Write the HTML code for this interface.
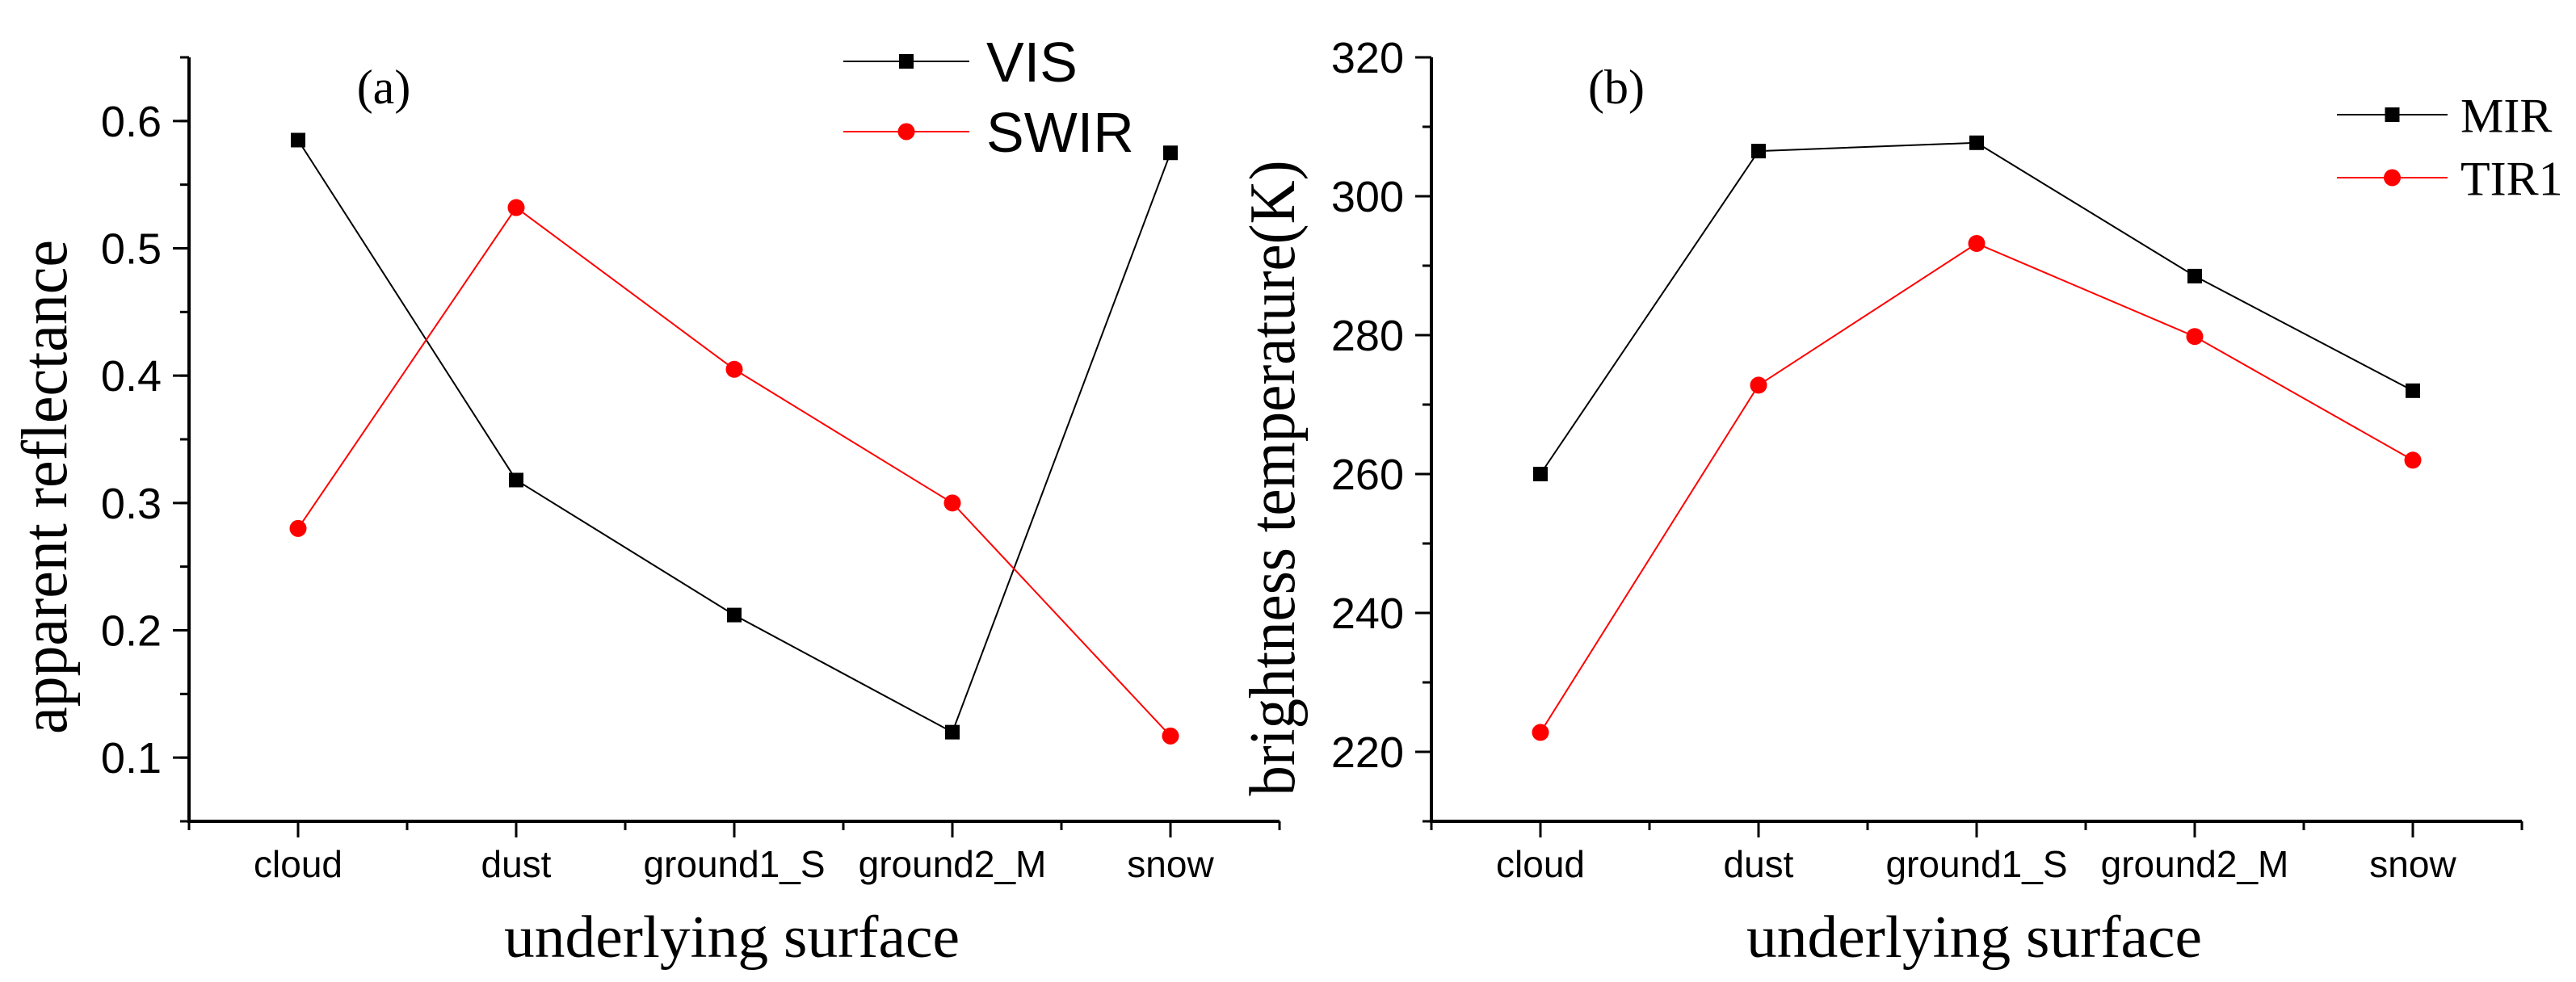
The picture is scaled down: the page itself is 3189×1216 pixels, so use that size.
<!DOCTYPE html>
<html><head><meta charset="utf-8"><style>
html,body{margin:0;padding:0;background:#fff;}
svg{display:block;}
</style></head><body>
<svg id="fig" width="3189" height="1216" viewBox="0 0 3189 1216" xmlns="http://www.w3.org/2000/svg">
<g id="pa"></g>
<g id="pb"></g>
</svg>
<script>
const categories = ["cloud","dust","ground1_S","ground2_M","snow"];
const visValues = [0.585, 0.318, 0.212, 0.120, 0.575];
const swirValues = [0.280, 0.532, 0.405, 0.300, 0.117];
const mirValues = [260.0, 306.5, 307.7, 288.5, 272.0];
const tir1Values = [222.8, 272.8, 293.2, 279.8, 262.0];
const aTicks = [0.1, 0.2, 0.3, 0.4, 0.5, 0.6];
const aTickLabels = ["0.1","0.2","0.3","0.4","0.5","0.6"];
const bTicks = [220, 240, 260, 280, 300, 320];
const bTickLabels = ["220","240","260","280","300","320"];

const NS = "http://www.w3.org/2000/svg";
function mk(parent, tag, attrs, text){
  const e = document.createElementNS(NS, tag);
  for (const k in attrs) e.setAttribute(k, attrs[k]);
  if (text !== undefined) e.textContent = text;
  parent.appendChild(e);
  return e;
}

function drawPanel(g, cfg){
  const x0 = cfg.x0, x1 = cfg.x0 + 1350, yTop = 71, yBot = 1017;
  const xs = i => x0 + 135 + 270 * i;
  const ys = v => yBot - (v - cfg.min) / (cfg.max - cfg.min) * (yBot - yTop);
  const ax = mk(g, "path", {d:`M${x0},${yTop} V${yBot} H${x1}`, fill:"none", stroke:"#000", "stroke-width":4});
  
  
  cfg.ticks.forEach((t, i) => {
    const y = ys(t);
    const tk = mk(g, "line", {x1:x0-20, x2:x0, y1:y, y2:y, stroke:"#000", "stroke-width":3});
    
    
    const lb = mk(g, "text", {x:x0-34, y:y+19, "text-anchor":"end", "font-family":"Liberation Sans, sans-serif", "font-size":54}, cfg.tickLabels[i]);
    
    
  });
  const step = cfg.ticks[1] - cfg.ticks[0];
  for (let v = cfg.min; v <= cfg.max + 1e-9; v += step/2) {
    const y = ys(v);
    const mt = mk(g, "line", {x1:x0-11, x2:x0, y1:y, y2:y, stroke:"#000", "stroke-width":3});
    
    
  }
  for (let k = 0; k <= 10; k++) {
    const x = x0 + 135 * k;
    const major = k % 2 === 1;
    const xt = mk(g, "line", {x1:x, x2:x, y1:yBot, y2:yBot + (major ? 20 : 11), stroke:"#000", "stroke-width":3});
    
    
  }
  categories.forEach((c, i) => {
    const xl = mk(g, "text", {x:xs(i), y:1086, "text-anchor":"middle", "font-family":"Liberation Sans, sans-serif", "font-size":46}, c);
    
    
  });
  const xt = mk(g, "text", {x:x0 + 672, y:1185, "text-anchor":"middle", "font-family":"Liberation Serif, serif", "font-size":74, textLength:564, lengthAdjust:"spacingAndGlyphs"}, "underlying surface");
  
  
  const yt = mk(g, "text", {x:0, y:0, "text-anchor":"middle", "font-family":"Liberation Serif, serif", "font-size":80, textLength:cfg.ytLen, lengthAdjust:"spacingAndGlyphs", transform:`translate(${cfg.ytX},${cfg.ytY}) rotate(-90)`}, cfg.ytitle);
  
  
  const pl = mk(g, "text", {x:cfg.plX, y:128, "text-anchor":"middle", "font-family":"Liberation Serif, serif", "font-size":60}, cfg.panelLabel);
  
  
  cfg.series.forEach(s => {
    const pts = s.values.map((v, i) => `${xs(i)},${ys(v)}`).join(" ");
    const ln = mk(g, "polyline", {points:pts, fill:"none", stroke:s.color, "stroke-width":2});
    
    
    s.values.forEach((v, i) => {
      let m;
      if (s.shape === "sq") m = mk(g, "rect", {x:xs(i)-9, y:ys(v)-9, width:18, height:18, fill:s.color});
      else m = mk(g, "circle", {cx:xs(i), cy:ys(v), r:10.5, fill:s.color});
      
      
    });
    const L = s.leg;
    const ll = mk(g, "line", {x1:L.x1, x2:L.x2, y1:L.y, y2:L.y, stroke:s.color, "stroke-width":2});
    
    
    const mx = (L.x1 + L.x2)/2;
    let lm;
    if (s.shape === "sq") lm = mk(g, "rect", {x:mx-9, y:L.y-9, width:18, height:18, fill:s.color});
    else lm = mk(g, "circle", {cx:mx, cy:L.y, r:10.5, fill:s.color});
    
    
    const lt = mk(g, "text", {x:L.tx, y:L.y + L.fs*0.36, "font-family":L.font, "font-size":L.fs}, s.label);
    
    
  });
}

drawPanel(document.getElementById("pa"), {
  id:"panel-a", x0:234, min:0.05, max:0.65, ticks:aTicks, tickLabels:aTickLabels,
  ytitle:"apparent reflectance", ytX:82, ytY:603, ytLen:612, plX:475, panelLabel:"(a)",
  series:[
    {name:"vis", label:"VIS", values:visValues, color:"#000", shape:"sq",
     leg:{x1:1044, x2:1200, y:76, tx:1221, fs:70, font:"Liberation Sans, sans-serif"}},
    {name:"swir", label:"SWIR", values:swirValues, color:"#ff0000", shape:"ci",
     leg:{x1:1044, x2:1200, y:163, tx:1221, fs:70, font:"Liberation Sans, sans-serif"}}
  ]
});
drawPanel(document.getElementById("pb"), {
  id:"panel-b", x0:1772, min:210, max:320, ticks:bTicks, tickLabels:bTickLabels,
  ytitle:"brightness temperature(K)", ytX:1602, ytY:592, ytLen:787, plX:2001, panelLabel:"(b)",
  series:[
    {name:"mir", label:"MIR", values:mirValues, color:"#000", shape:"sq",
     leg:{x1:2893, x2:3030, y:142, tx:3046, fs:60, font:"Liberation Serif, serif"}},
    {name:"tir1", label:"TIR1", values:tir1Values, color:"#ff0000", shape:"ci",
     leg:{x1:2893, x2:3030, y:220, tx:3046, fs:60, font:"Liberation Serif, serif"}}
  ]
});
</script>
</body></html>
